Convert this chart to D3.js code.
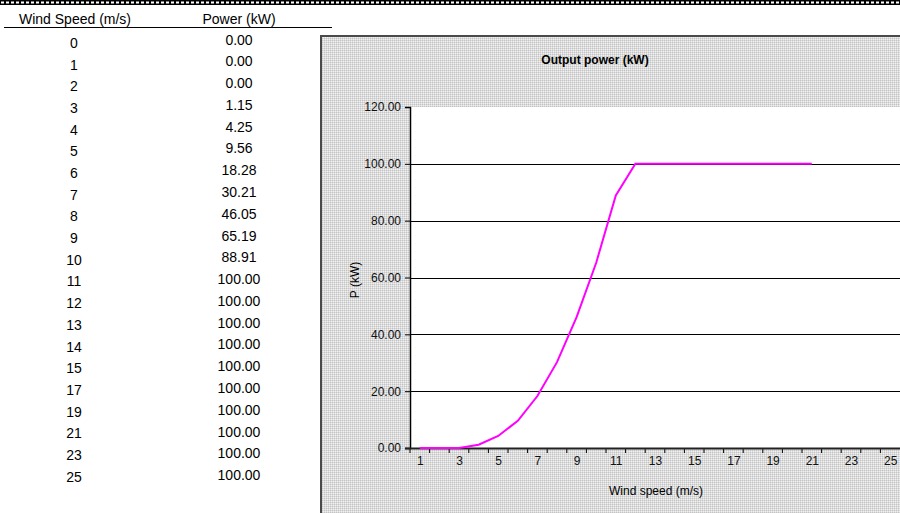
<!DOCTYPE html>
<html>
<head>
<meta charset="utf-8">
<script src="https://cdn.jsdelivr.net/npm/d3@7/dist/d3.min.js"></script>
<style>
  html, body { margin: 0; padding: 0; background: #fff; }
  svg { display: block; font-family: "Liberation Sans", Arial, sans-serif; }
</style>
</head>
<body>
<svg id="chart" width="900" height="513"></svg>
<script>
// ---- data ----
const windSpeeds = [0, 1, 2, 3, 4, 5, 6, 7, 8, 9, 10, 11, 12, 13, 14, 15, 17, 19, 21, 23, 25];
const powerKW = [0.00, 0.00, 0.00, 1.15, 4.25, 9.56, 18.28, 30.21, 46.05, 65.19, 88.91,
                 100.00, 100.00, 100.00, 100.00, 100.00, 100.00, 100.00, 100.00, 100.00, 100.00];
const xCategories = [1, 2, 3, 4, 5, 6, 7, 8, 9, 10, 11, 12, 13, 14, 15, 16, 17, 18, 19, 20, 21, 22, 23, 24, 25];
const xTickLabels = [1, 3, 5, 7, 9, 11, 13, 15, 17, 19, 21, 23, 25];
const yTicks = [0, 20, 40, 60, 80, 100, 120];
const tableHeaders = ["Wind Speed (m/s)", "Power (kW)"];
const chartTitle = "Output power (kW)";
const xTitle = "Wind speed (m/s)";
const yTitle = "P (kW)";

const svg = d3.select("#chart");
const FONT = "'Liberation Sans', Arial, sans-serif";

// ---- top dashed strip ----
svg.append("rect").attr("x", 0).attr("y", 0).attr("width", 900).attr("height", 5).attr("fill", "#000");
svg.append("line").attr("x1", 1).attr("x2", 900).attr("y1", 2.5).attr("y2", 2.5)
  .attr("stroke", "#fff").attr("stroke-width", 2).attr("stroke-dasharray", "3,2");

// ---- table ----
const colX = [75, 239];
svg.selectAll("text.hdr").data(tableHeaders).join("text")
  .attr("class", "hdr")
  .attr("x", (d, i) => colX[i]).attr("y", 24)
  .attr("text-anchor", "middle").attr("font-size", 14).attr("fill", "#000")
  .text(d => d);
svg.append("line").attr("x1", 4).attr("x2", 332).attr("y1", 27.5).attr("y2", 27.5)
  .attr("stroke", "#000").attr("stroke-width", 1);

svg.selectAll("text.spd").data(windSpeeds).join("text")
  .attr("class", "spd")
  .attr("x", colX[0] - 1).attr("y", (d, i) => 48 + i * 21.68)
  .attr("text-anchor", "middle").attr("font-size", 14).attr("fill", "#000")
  .text(d => d);
svg.selectAll("text.pwr").data(powerKW).join("text")
  .attr("class", "pwr")
  .attr("x", colX[1]).attr("y", (d, i) => 44.5 + i * 21.78)
  .attr("text-anchor", "middle").attr("font-size", 14).attr("fill", "#000")
  .text(d => d3.format(".2f")(d));

// ---- chart area ----
const defs = svg.append("defs");
const pat = defs.append("pattern").attr("id", "hatch").attr("patternUnits", "userSpaceOnUse")
  .attr("width", 2).attr("height", 2);
pat.append("rect").attr("width", 2).attr("height", 2).attr("fill", "#dcdcdc");
pat.append("rect").attr("x", 0).attr("y", 0).attr("width", 1).attr("height", 1).attr("fill", "#c4c4c4");
pat.append("rect").attr("x", 1).attr("y", 1).attr("width", 1).attr("height", 1).attr("fill", "#f0f0f0");

svg.append("rect").attr("x", 321).attr("y", 36).attr("width", 700).attr("height", 600)
  .attr("fill", "url(#hatch)").attr("stroke", "#4a4a4a").attr("stroke-width", 2);

const plot = { left: 410, right: 900, top: 107, bottom: 448 };

const x = d3.scaleBand().domain(xCategories).range([plot.left, plot.right]).padding(0);
const y = d3.scaleLinear().domain([0, 120]).range([plot.bottom, plot.top]);

svg.append("rect").attr("x", plot.left).attr("y", plot.top)
  .attr("width", plot.right - plot.left).attr("height", plot.bottom - plot.top).attr("fill", "#fff");

// gridlines
svg.append("g").selectAll("line").data(yTicks.filter(v => v > 0 && v < 120)).join("line")
  .attr("x1", plot.left).attr("x2", plot.right)
  .attr("y1", d => Math.round(y(d)) + 0.5).attr("y2", d => Math.round(y(d)) + 0.5)
  .attr("stroke", "#000").attr("stroke-width", 1);

// y axis
const yAxis = d3.axisLeft(y).tickValues(yTicks).tickFormat(d3.format(".2f")).tickSize(5).tickPadding(4);
const gy = svg.append("g").attr("transform", `translate(${plot.left},0)`).call(yAxis);
gy.select(".domain").attr("stroke", "#000").attr("stroke-width", 1.5);
gy.selectAll(".tick line").attr("stroke", "#000");
gy.selectAll(".tick text").attr("font-size", 12).attr("font-family", FONT).attr("fill", "#111");

// x axis
const xAxis = d3.axisBottom(x).tickValues(xTickLabels).tickSize(0).tickPadding(8);
const gx = svg.append("g").attr("transform", `translate(0.5,${plot.bottom})`).call(xAxis);
gx.select(".domain").remove();
gx.selectAll(".tick text").attr("font-size", 12).attr("font-family", FONT).attr("fill", "#111");
// boundary tick marks
svg.append("g").selectAll("line").data(xCategories).join("line")
  .attr("x1", d => x(d)).attr("x2", d => x(d))
  .attr("y1", plot.bottom).attr("y2", plot.bottom + 5)
  .attr("stroke", "#000").attr("stroke-width", 1);
svg.append("line").attr("x1", plot.left - 5).attr("x2", plot.right)
  .attr("y1", plot.bottom + 0.5).attr("y2", plot.bottom + 0.5)
  .attr("stroke", "#222").attr("stroke-width", 2);

// line series (category axis: point i at category i+1)
const line = d3.line()
  .x((d, i) => x(xCategories[i]) + x.bandwidth() / 2)
  .y(d => y(d));
svg.append("path").datum(powerKW).attr("d", line)
  .attr("fill", "none").attr("stroke", "#ff00ff").attr("stroke-width", 2);

// titles
svg.append("text").attr("x", 595).attr("y", 64).attr("text-anchor", "middle")
  .attr("font-size", 12).attr("font-weight", "bold").attr("fill", "#000").text(chartTitle);
svg.append("text").attr("x", 656).attr("y", 495).attr("text-anchor", "middle")
  .attr("font-size", 12).attr("fill", "#000").text(xTitle);
svg.append("text").attr("transform", "translate(359,280) rotate(-90)").attr("text-anchor", "middle")
  .attr("font-size", 12).attr("fill", "#000").text(yTitle);
</script>
</body>
</html>
